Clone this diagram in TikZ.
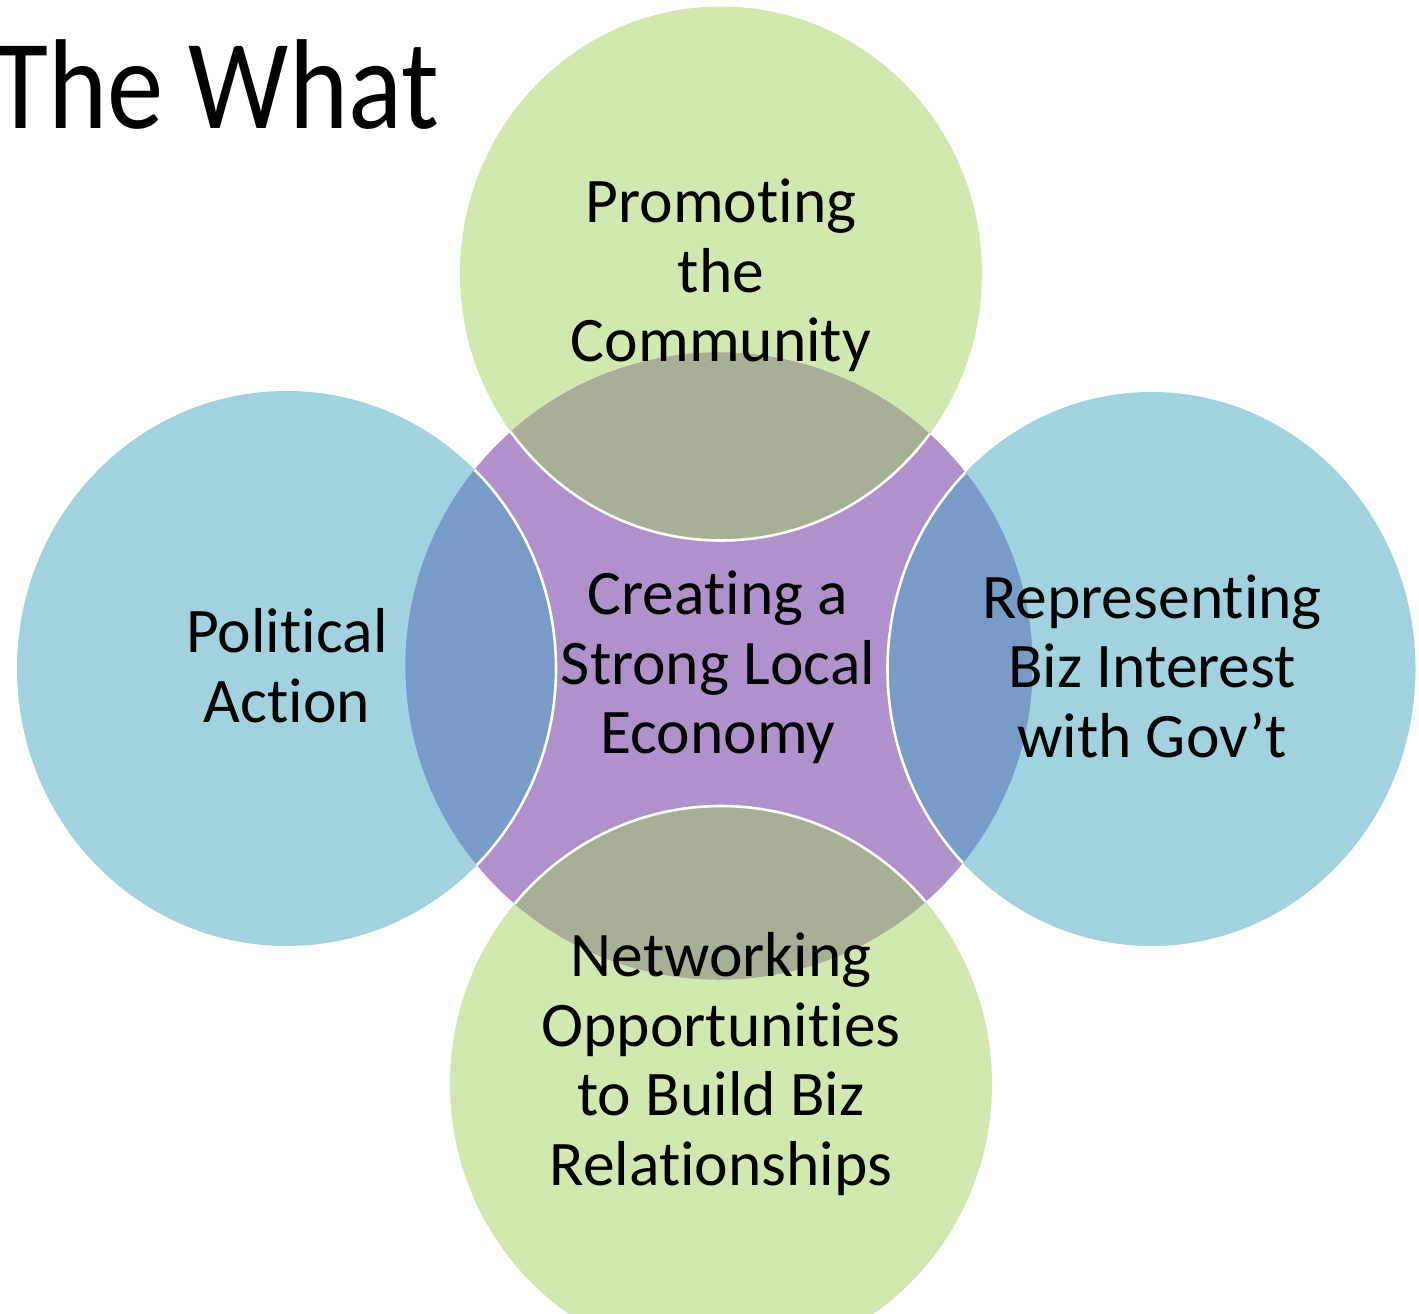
\documentclass[tikz,border=0pt]{standalone}
\usepackage{fontspec}
\setmainfont{Carlito}[Ligatures=NoCommon,RawFeature=-liga]
\definecolor{lgreen}{RGB}{209,233,174}
\definecolor{lblue}{RGB}{160,210,224}
\definecolor{cpurple}{RGB}{176,145,204}
\definecolor{ogreen}{RGB}{167,176,149}
\definecolor{oblue}{RGB}{119,156,200}
\begin{document}
\begin{tikzpicture}[x=0.5pt,y=-0.5pt,
  lbl/.style={inner sep=0pt, align=center, font=\fontsize{31.75}{34.75}\selectfont},
  rim/.style={draw=white, line width=1.3pt}]
\useasboundingbox (0,0) rectangle (1419,1313);
\def\toppath{(721,273.5) ellipse [x radius=130.5pt, y radius=133.5pt]}
\def\leftpath{(286.5,668.5) ellipse [x radius=134.75pt, y radius=138.75pt]}
\def\rightpath{(1151.5,669) ellipse [x radius=132pt, y radius=138.5pt]}
\def\botpath{(721,1084) ellipse [x radius=135.5pt, y radius=139pt]}
\def\cenpath{(719,666) circle [radius=156.75pt]}
% outer circles
\fill[lgreen] \toppath;
\fill[lgreen] \botpath;
\fill[lblue] \leftpath;
\fill[lblue] \rightpath;
% centre
\fill[cpurple] \cenpath;
% overlaps
\begin{scope}
  \clip \cenpath;
  \fill[ogreen] \toppath;
  \fill[ogreen] \botpath;
  \fill[oblue] \leftpath;
  \fill[oblue] \rightpath;
  \path[rim] \toppath;
  \path[rim] \botpath;
  \path[rim] \leftpath;
  \path[rim] \rightpath;
\end{scope}
% texts
\node[anchor=base west, inner sep=0pt, font=\fontsize{64}{70}\selectfont, xscale=0.88] (title) at (-7,128) {The What};
\node[lbl] (ttop) at (721,275.3) {Promoting\\the\\Community};
\node[lbl] (tcen) at (718,667.5) {Creating a\\Strong Local\\Economy};
\node[lbl] (tleft) at (287,665.5) {Political\\Action};
\node[lbl] (tright) at (1152,666) {Representing\\Biz Interest\\with Gov’t};
\node[lbl] (tbot) at (721,1064) {Networking\\Opportunities\\to Build Biz\\Relationships};
\end{tikzpicture}
\end{document}
